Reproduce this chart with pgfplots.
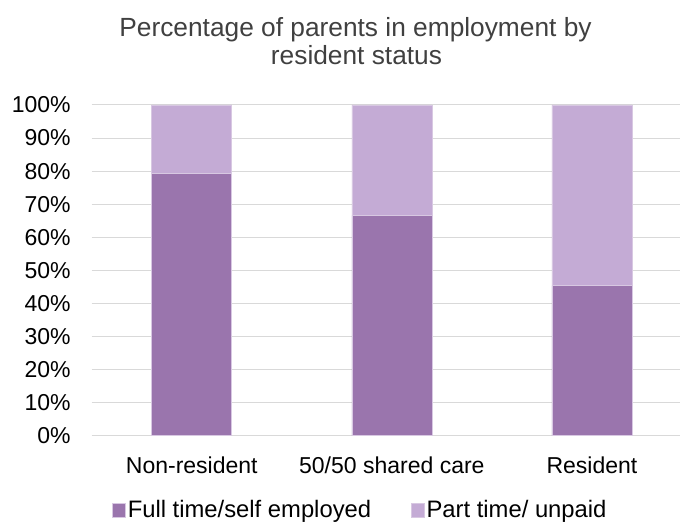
\documentclass[border=0pt]{standalone}
\usepackage{pgfplots}
\pgfplotsset{compat=1.18}
\usepackage{fontspec}
\setmainfont{Liberation Sans}
\definecolor{fullc}{HTML}{9A75AD}
\definecolor{partc}{HTML}{C4ABD5}
\definecolor{gridc}{HTML}{D9D9D9}
\definecolor{edgec}{HTML}{D8C8E2}
\definecolor{titlec}{HTML}{404040}
\newcommand\cf{\fontsize{23bp}{27bp}\selectfont}
\newcommand\lf{\fontsize{23.8bp}{28bp}\selectfont}
\newcommand\tf{\fontsize{26.3bp}{30bp}\selectfont}
\begin{document}
\begin{tikzpicture}
\useasboundingbox (0,0) rectangle (680bp,524bp);
\begin{axis}[
  at={(91.7bp,88.3bp)}, anchor=south west,
  scale only axis, width=588.3bp, height=330.7bp,
  ybar stacked, bar width=0.4,
  xmin=-0.5, xmax=2.44, ymin=0, ymax=100,
  xtick={0,1,2}, xticklabels={Non-resident,50/50 shared care,Resident},
  ytick={0,10,...,100},
  yticklabels={0\%,10\%,20\%,30\%,40\%,50\%,60\%,70\%,80\%,90\%,100\%},
  /pgf/number format/assume math mode=true,
  major tick length=0pt,
  axis line style={draw=none},
  ymajorgrids, grid style={gridc, line width=1bp},
  tick label style={font=\cf, text=black},
  yticklabel style={anchor=east, inner xsep=0pt, xshift=-20.8bp},
  xticklabel style={anchor=base, yshift=-37.6bp},
  legend style={at={(0.034,-0.225)}, anchor=west, draw=none, fill=none,
    font=\lf, inner sep=0pt, legend columns=2,
    nodes={inner xsep=2bp, inner ysep=0pt, text=black},
    /tikz/every even column/.append style={column sep=37.5bp}},
  legend image code/.code={\fill[#1] (0bp,-6.7bp) rectangle (13.3bp,6.7bp);},
  clip=false,
]
\addplot[fill=fullc, draw=edgec, line width=0.6bp] coordinates {(0,79.2) (1,66.6) (2,45.4)};
\addplot[fill=partc, draw=edgec, line width=0.6bp] coordinates {(0,20.8) (1,33.4) (2,54.6)};
\legend{Full time/self employed, Part time/ unpaid}
\end{axis}
\node[anchor=base, font=\tf, text=titlec, inner sep=0pt] at (355.5bp,487.3bp) {Percentage of parents in employment by};
\node[anchor=base, font=\tf, text=titlec, inner sep=0pt] at (356.5bp,459bp) {resident status};
\end{tikzpicture}
\end{document}
